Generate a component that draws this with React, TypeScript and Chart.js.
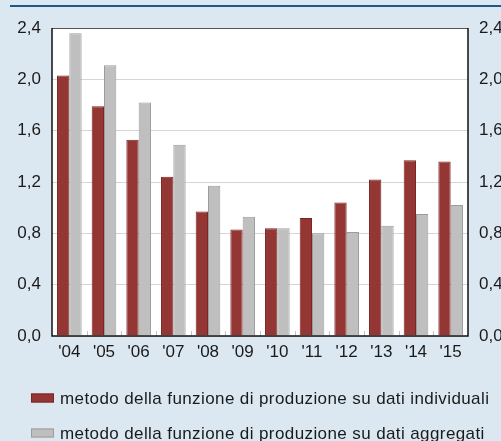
import React, { useEffect, useRef } from "react";
import { Chart, registerables } from "chart.js";

Chart.register(...registerables);

const categories = ["'04", "'05", "'06", "'07", "'08", "'09", "'10", "'11", "'12", "'13", "'14", "'15"];
const individualValues = [2.03, 1.79, 1.53, 1.24, 0.97, 0.83, 0.84, 0.92, 1.04, 1.22, 1.37, 1.36];
const aggregateValues = [2.36, 2.11, 1.82, 1.49, 1.17, 0.93, 0.84, 0.80, 0.81, 0.86, 0.95, 1.02];
const seriesLabels = [
  "metodo della funzione di produzione su dati individuali",
  "metodo della funzione di produzione su dati aggregati",
];
const yTicks = [0, 0.4, 0.8, 1.2, 1.6, 2.0, 2.4];

const PAGE_BG = "#dce8f1";
const FONT = "'Liberation Sans', Arial, sans-serif";

const fmt = (v: number) => v.toFixed(1).replace(".", ",");

const framePlugin = {
  id: "frame",
  beforeDraw(chart: any) {
    const { ctx, chartArea: a, width } = chart;
    ctx.save();
    ctx.fillStyle = PAGE_BG;
    ctx.fillRect(0, 0, chart.width, chart.height);
    ctx.fillStyle = "#ffffff";
    ctx.fillRect(a.left, a.top, a.right - a.left, a.bottom - a.top);
    ctx.strokeStyle = "#1c5a87";
    ctx.lineWidth = 2;
    ctx.beginPath();
    ctx.moveTo(10, 6);
    ctx.lineTo(width, 6);
    ctx.stroke();
    ctx.restore();
  },
  afterDatasetsDraw(chart: any) {
    const { ctx, chartArea: a } = chart;
    const xs = chart.scales.x;
    ctx.save();
    // small category separator ticks inside the plot
    ctx.strokeStyle = "#c4c4c4";
    ctx.lineWidth = 1;
    ctx.beginPath();
    for (let i = 1; i < categories.length; i++) {
      const px = Math.round((xs.getPixelForTick(i - 1) + xs.getPixelForTick(i)) / 2) + 0.5;
      ctx.moveTo(px, a.bottom - 5);
      ctx.lineTo(px, a.bottom);
    }
    ctx.stroke();
    ctx.strokeStyle = "#555555";
    ctx.lineWidth = 1;
    ctx.beginPath();
    ctx.moveTo(a.left, a.top + 0.5);
    ctx.lineTo(a.right, a.top + 0.5);
    ctx.stroke();
    ctx.strokeStyle = "#111111";
    ctx.lineWidth = 1.5;
    ctx.beginPath();
    ctx.moveTo(a.left, a.top);
    ctx.lineTo(a.left, a.bottom);
    ctx.lineTo(a.right, a.bottom);
    ctx.lineTo(a.right, a.top);
    ctx.stroke();
    ctx.restore();
  },
  afterDraw(chart: any) {
    const { ctx } = chart;
    const rows = [398, 433];
    ctx.save();
    ctx.font = `17px ${FONT}`;
    ctx.textBaseline = "middle";
    try {
      (ctx as any).letterSpacing = "0.4px";
    } catch (e) {}
    chart.data.datasets.forEach((ds: any, i: number) => {
      const y = rows[i];
      ctx.fillStyle = ds.backgroundColor;
      ctx.fillRect(31, y - 4.5, 23, 9);
      ctx.strokeStyle = ds.borderColor;
      ctx.lineWidth = 1;
      ctx.strokeRect(31.5, y - 4, 22, 8);
      ctx.fillStyle = "#1a1a1a";
      ctx.fillText(ds.label, 60, y + 1);
    });
    ctx.restore();
  },
};

export default function App() {
  const ref = useRef<HTMLCanvasElement | null>(null);
  useEffect(() => {
    if (!ref.current) return;
    const tickFont = { family: FONT, size: 17 };
    const chart = new Chart(ref.current, {
      type: "bar",
      data: {
        labels: categories,
        datasets: [
          {
            label: seriesLabels[0],
            data: individualValues,
            backgroundColor: "#943634",
            borderColor: "#7a2624",
            borderWidth: 1,
            yAxisID: "y",
          },
          {
            label: seriesLabels[1],
            data: aggregateValues,
            backgroundColor: "#bfbfbf",
            borderColor: "#9c9c9c",
            borderWidth: 1,
            yAxisID: "y",
          },
        ],
      },
      options: {
        responsive: false,
        animation: false,
        devicePixelRatio: 1,
        layout: { padding: { left: 0, right: 0, top: 28, bottom: 75 } },
        datasets: { bar: { categoryPercentage: 0.71, barPercentage: 1.0 } },
        plugins: { legend: { display: false }, tooltip: { enabled: false } },
        scales: {
          x: {
            grid: { display: false, drawTicks: false },
            border: { display: false },
            ticks: { color: "#1a1a1a", font: tickFont, padding: 6, maxRotation: 0 },
            afterFit: (s: any) => {
              s.height = 30;
            },
          },
          y: {
            position: "left",
            min: 0,
            max: 2.4,
            afterBuildTicks: (s: any) => {
              s.ticks = yTicks.map((v) => ({ value: v }));
            },
            grid: { color: "#d6d6d6", drawTicks: false, lineWidth: 1 },
            border: { display: false },
            ticks: { color: "#1a1a1a", font: tickFont, padding: 11, callback: (v: any) => fmt(Number(v)) },
            afterFit: (s: any) => {
              s.width = 52;
            },
          },
          y2: {
            position: "right",
            min: 0,
            max: 2.4,
            afterBuildTicks: (s: any) => {
              s.ticks = yTicks.map((v) => ({ value: v }));
            },
            grid: { drawOnChartArea: false, drawTicks: false },
            border: { display: false },
            ticks: { color: "#1a1a1a", font: tickFont, padding: 11, callback: (v: any) => fmt(Number(v)) },
            afterFit: (s: any) => {
              s.width = 33;
            },
          },
        },
      },
      plugins: [framePlugin],
    });
    return () => chart.destroy();
  }, []);
  return (
    <div style={{ position: "absolute", left: 0, top: 0, width: 501, height: 441, background: PAGE_BG }}>
      <canvas ref={ref} width={501} height={441} style={{ display: "block" }} />
    </div>
  );
}
